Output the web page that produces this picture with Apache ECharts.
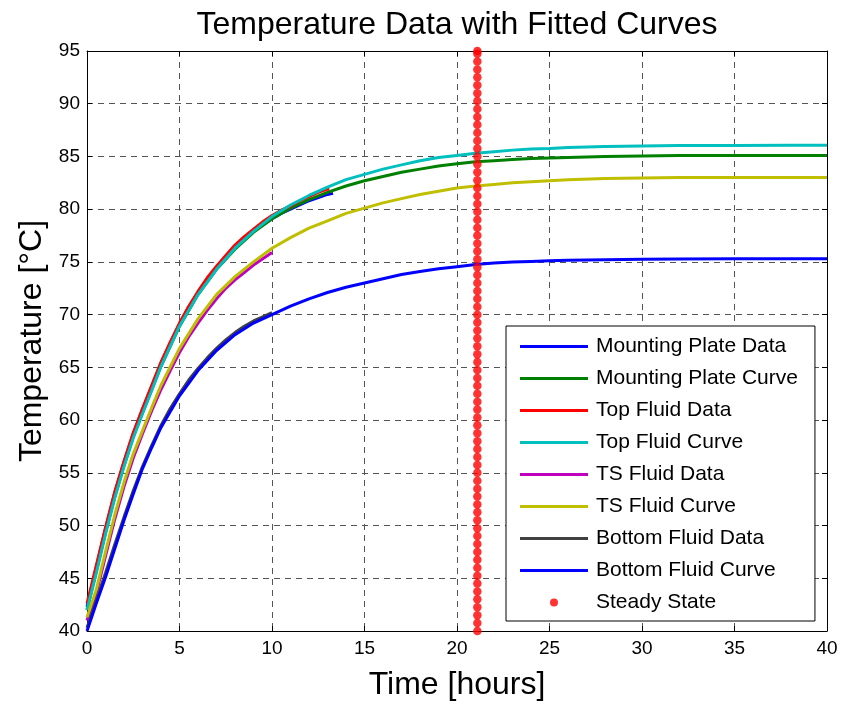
<!DOCTYPE html>
<html>
<head>
<meta charset="utf-8">
<script src="https://cdn.jsdelivr.net/npm/echarts@6/dist/echarts.min.js"></script>
<style>html,body{margin:0;padding:0;background:#fff;}#c{width:843px;height:706px;}</style>
</head>
<body>
<div id="c"></div>
<script>
// ---- data ----
const xTicks = [0, 5, 10, 15, 20, 25, 30, 35, 40];
const yTicks = [40, 45, 50, 55, 60, 65, 70, 75, 80, 85, 90, 95];

const curveTimes = [0,0.5,1,1.5,2,2.5,3,3.5,4,5,6,7,8,9,10,11,12,13,14,15,16,17,18,19,20,21,22,23,24,25,26,28,30,32,35,38,40];
const mountingCurve = [42.0,45.6,49.3,52.7,55.7,58.4,60.7,62.9,65.1,68.9,71.9,74.3,76.2,77.8,79.1,80.1,80.9,81.6,82.2,82.7,83.1,83.5,83.8,84.1,84.3,84.5,84.6,84.7,84.8,84.85,84.9,85.0,85.05,85.1,85.1,85.1,85.1];
const topCurve = [42.0,45.5,49.2,52.6,55.6,58.3,60.6,62.8,65.1,68.9,71.9,74.3,76.3,77.9,79.3,80.4,81.3,82.1,82.8,83.3,83.8,84.2,84.6,84.9,85.1,85.3,85.45,85.6,85.7,85.75,85.85,85.95,86.0,86.03,86.05,86.06,86.06];
const tsCurve = [41.3,43.9,47.5,51.0,54.1,56.8,59.0,61.2,63.3,66.8,69.6,71.9,73.6,75.0,76.3,77.3,78.2,78.9,79.6,80.1,80.6,81.0,81.4,81.7,82.0,82.2,82.35,82.5,82.6,82.7,82.8,82.9,82.95,83.0,83.0,83.0,83.0];
const bottomCurve = [40.0,42.6,45.1,47.8,50.5,53.0,55.4,57.4,59.3,62.3,64.7,66.6,68.1,69.2,70.0,70.8,71.5,72.1,72.6,73.0,73.4,73.8,74.1,74.35,74.55,74.75,74.9,75.0,75.05,75.1,75.15,75.2,75.25,75.27,75.3,75.3,75.3];

const mountingTimes = [0,0.5,1,1.5,2,2.5,3,3.5,4,4.5,5,5.5,6,6.5,7,7.5,8,8.5,9,9.5,10,10.5,11,11.5,12,12.5,13,13.3];
const mountingData = [42.3,46.0,49.7,53.1,56.0,58.7,61.0,63.2,65.4,67.3,69.1,70.7,72.1,73.4,74.5,75.5,76.4,77.2,77.9,78.5,79.1,79.6,80.0,80.4,80.8,81.1,81.4,81.5];
const topTimes = [0,0.5,1,1.5,2,2.5,3,3.5,4,4.5,5,5.5,6,6.5,7,7.5,8,8.5,9,9.5,10,10.5,11,11.5,12,12.5,13,13.1];
const topData = [42.6,46.2,49.8,53.2,56.1,58.8,61.1,63.3,65.5,67.4,69.2,70.8,72.2,73.5,74.6,75.6,76.6,77.4,78.1,78.8,79.4,79.9,80.3,80.8,81.2,81.6,81.9,81.9];
const shortTimes = [0,0.5,1,1.5,2,2.5,3,3.5,4,4.5,5,5.5,6,6.5,7,7.5,8,8.5,9,9.5,10];
const tsData = [41.0,43.6,47.1,50.6,53.7,56.4,58.7,60.9,62.9,64.7,66.4,67.9,69.2,70.4,71.5,72.5,73.3,74.0,74.7,75.3,75.9];
const bottomData = [40.3,42.9,45.5,48.2,50.8,53.3,55.6,57.6,59.5,61.1,62.5,63.8,64.9,65.9,66.8,67.6,68.3,68.9,69.4,69.8,70.2];

const steadyTime = 21.1;
const steadyTemps = [40,40.75,41.5,42.25,43,43.75,44.5,45.25,46,46.75,47.5,48.25,49,49.75,50.5,51.25,52,52.75,53.5,54.25,55,55.75,56.5,57.25,58,58.75,59.5,60.25,61,61.75,62.5,63.25,64,64.75,65.5,66.25,67,67.75,68.5,69.25,70,70.75,71.5,72.25,73,73.75,74.5,75.25,76,76.75,77.5,78.25,79,79.75,80.5,81.25,82,82.75,83.5,84.25,85,85.75,86.5,87.25,88,88.75,89.5,90.25,91,91.75,92.5,93.25,94,94.75,95];

const seriesNames = ['Mounting Plate Data','Mounting Plate Curve','Top Fluid Data','Top Fluid Curve','TS Fluid Data','TS Fluid Curve','Bottom Fluid Data','Bottom Fluid Curve','Steady State'];
const seriesColors = ['#0000FF','#008000','#FF0000','#00BFBF','#BF00BF','#BFBF00','#404040','#0000FF','#FF0000'];

// ---- build ----
const zip = (xs, ys) => xs.map((x, i) => [x, ys[i]]);
const lineSets = [
  zip(mountingTimes, mountingData),
  zip(curveTimes, mountingCurve),
  zip(topTimes, topData),
  zip(curveTimes, topCurve),
  zip(shortTimes, tsData),
  zip(curveTimes, tsCurve),
  zip(shortTimes, bottomData),
  zip(curveTimes, bottomCurve)
];
const FONT = 'Liberation Sans, Arial, Helvetica, sans-serif';

const series = lineSets.map((d, i) => ({
  name: seriesNames[i],
  type: 'line',
  data: d,
  symbol: 'none',
  showSymbol: false,
  lineStyle: { color: seriesColors[i], width: 3 },
  itemStyle: { color: seriesColors[i] },
  z: 3,
  animation: false
}));
series.push({
  name: seriesNames[8],
  type: 'scatter',
  data: steadyTemps.map(v => [steadyTime, v]),
  symbol: 'circle',
  symbolSize: 8.5,
  itemStyle: { color: seriesColors[8] },
  clip: false,
  z: 4,
  animation: false
});

const LINE_ICON = 'path://M0,0 M68,14 M0,5.5 L68,5.5 L68,8.5 L0,8.5 Z';
const DOT_ICON = 'path://M0,0 M68,14 M30,7 A4,4 0 1,0 38,7 A4,4 0 1,0 30,7 Z';
const legendData = seriesNames.map((n, i) => ({ name: n, icon: i === 8 ? DOT_ICON : LINE_ICON }));

const axisCommon = {
  axisLine: { show: true, onZero: false, lineStyle: { color: '#000', width: 1 } },
  axisTick: { show: true, inside: true, length: 5, lineStyle: { color: '#000' } },
  splitLine: { show: false },
  axisLabel: { show: false }
};

const chart = echarts.init(document.getElementById('c'), null, { renderer: 'canvas' });
chart.setOption({
  animation: false,
  backgroundColor: '#fff',
  title: {
    text: 'Temperature Data with Fitted Curves',
    left: 452, top: 4, textAlign: 'center',
    textStyle: { fontFamily: FONT, fontSize: 32, fontWeight: 'normal', color: '#000' }
  },
  grid: { left: 87, right: 16, top: 51, bottom: 74, containLabel: false },
  legend: {
    orient: 'vertical',
    left: 506, top: 326,
    padding: [10, 17, 8, 14],
    itemWidth: 68, itemHeight: 14, itemGap: 11,
    borderColor: '#000', borderWidth: 1, borderRadius: 0,
    backgroundColor: '#fff',
    textStyle: { fontFamily: FONT, fontSize: 21, color: '#000', padding: [0, 0, 0, 3] },
    data: legendData,
    selectedMode: false
  },
  xAxis: [
    {
      type: 'value', min: xTicks[0], max: xTicks[xTicks.length - 1], interval: 5,
      position: 'bottom',
      name: 'Time [hours]', nameLocation: 'middle', nameGap: 38,
      nameTextStyle: { fontFamily: FONT, fontSize: 32, color: '#000' },
      axisLine: { show: true, onZero: false, lineStyle: { color: '#000', width: 1 } },
      axisTick: { show: true, inside: true, length: 5, lineStyle: { color: '#000' } },
      axisLabel: { show: true, margin: 8, fontFamily: FONT, fontSize: 19, color: '#000', formatter: v => xTicks.includes(v) ? String(v) : '' },
      splitLine: { show: true, lineStyle: { color: '#555', type: [6, 5], width: 1 } }
    },
    Object.assign({ type: 'value', min: xTicks[0], max: xTicks[xTicks.length - 1], interval: 5, position: 'top' }, axisCommon)
  ],
  yAxis: [
    {
      type: 'value', min: yTicks[0], max: yTicks[yTicks.length - 1], interval: 5,
      position: 'left',
      name: 'Temperature [°C]', nameLocation: 'middle', nameGap: 38,
      nameTextStyle: { fontFamily: FONT, fontSize: 32, color: '#000' },
      axisLine: { show: true, onZero: false, lineStyle: { color: '#000', width: 1 } },
      axisTick: { show: true, inside: true, length: 5, lineStyle: { color: '#000' } },
      axisLabel: { show: true, margin: 7, fontFamily: FONT, fontSize: 19, color: '#000', formatter: v => yTicks.includes(v) ? String(v) : '' },
      splitLine: { show: true, lineStyle: { color: '#555', type: [6, 5], width: 1 } }
    },
    Object.assign({ type: 'value', min: yTicks[0], max: yTicks[yTicks.length - 1], interval: 5, position: 'right' }, axisCommon)
  ],
  series: series
});
</script>
</body>
</html>
